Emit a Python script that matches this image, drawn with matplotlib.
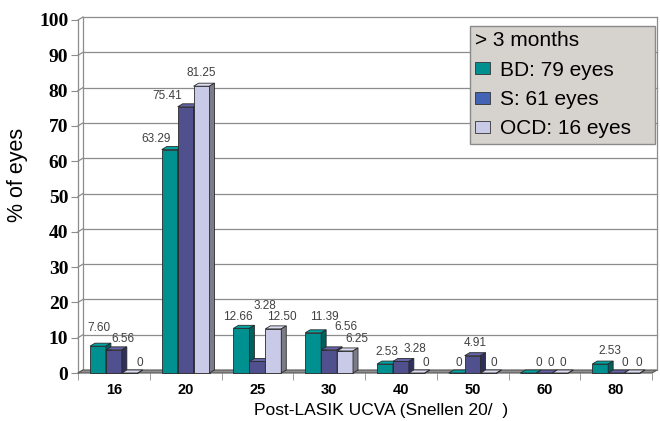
import numpy as np
import matplotlib.pyplot as plt
from matplotlib.patches import Polygon, Patch

# data
categories = ['16', '20', '25', '30', '40', '50', '60', '80']
series = ['BD: 79 eyes', 'S: 61 eyes', 'OCD: 16 eyes']
bd = [7.60, 63.29, 12.66, 11.39, 2.53, 0, 0, 2.53]
s = [6.56, 75.41, 3.28, 6.56, 3.28, 4.91, 0, 0]
ocd = [0, 81.25, 12.50, 6.25, 0, 0, 0, 0]
values = [bd, s, ocd]

# colours: front, side, top
front = ['#00908f', '#50508f', '#c9c9e8']
side = ['#005f5f', '#2f2f5c', '#7c7c88']
top = ['#00a3a3', '#6262a6', '#dcdcf2']
legend_cols = ['#00908f', '#4563b5', '#c9c9e8']

# label nudges (px right, data units above value) -- Excel labels were moved by hand
lab_dx = [[1, 9, 10], [-14, -18, 0], [-4, 8, 9], [11, 17, 12],
          [2, 14, 9], [2, 3, 5], [10, 6, 3], [10, 9, 7]]
lab_dy = [[5.1, 3.0, 2.8], [3.0, 3.1, 3.8], [3.2, 15.7, 3.4], [4.5, 6.4, 3.4],
          [3.5, 3.5, 2.8], [2.8, 3.6, 2.8], [2.8, 2.8, 2.8], [3.7, 2.8, 2.8]]

W, H = 660, 421
fig = plt.figure(figsize=(W / 100, H / 100), dpi=100)
x_left, x_right, y_bot, y_top = 78, 652, 373, 20
ax = fig.add_axes([x_left / W, (H - y_bot) / H, (x_right - x_left) / W, (y_bot - y_top) / H])
ax.set_xlim(-0.5, 7.5)
ax.set_ylim(0, 100)
for sp in ax.spines.values():
    sp.set_visible(False)

pxx = (x_right - x_left) / 8.0      # px per category
pxy = (y_bot - y_top) / 100.0       # px per unit
dx = 5 / pxx
dy = 3 / pxy
grid_c = '#8c8c8c'

# back wall grid + left wall edges
for v in range(0, 101, 10):
    if v > 0:
        ax.plot([-0.5 + dx, 7.5 + dx], [v + dy, v + dy], color=grid_c, lw=0.9, zorder=1, clip_on=False)
    ax.plot([-0.5, -0.5 + dx], [v, v + dy], color=grid_c, lw=0.9, zorder=1, clip_on=False)
ax.plot([-0.5 + dx, -0.5 + dx], [dy, 100 + dy], color=grid_c, lw=0.9, zorder=1, clip_on=False)
ax.plot([7.5 + dx, 7.5 + dx], [dy, 100 + dy], color=grid_c, lw=0.9, zorder=1, clip_on=False)
ax.plot([-0.5, -0.5], [0, 100], color=grid_c, lw=0.9, zorder=1, clip_on=False)

# floor
ax.add_patch(Polygon([(-0.5, 0), (7.5, 0), (7.5 + dx, dy), (-0.5 + dx, dy)],
                     closed=True, facecolor='#8f8f8f', edgecolor='#555555', lw=0.8, zorder=2, clip_on=False))

w = 0.222
xc = np.arange(len(categories))
for k in range(3):
    x0 = xc + (k - 1.5) * w
    vals = np.array(values[k])
    ax.bar(x0, vals, width=w, align='edge', color=front[k], edgecolor='#2a2a2a', lw=0.6, zorder=3 + k, clip_on=False)
    for i in range(len(categories)):
        a, b, h = x0[i], x0[i] + w, vals[i]
        ax.add_patch(Polygon([(a, h), (b, h), (b + dx, h + dy), (a + dx, h + dy)], closed=True,
                             facecolor=top[k], edgecolor='#2a2a2a', lw=0.6, zorder=3 + k, clip_on=False))
        ax.add_patch(Polygon([(b, 0), (b + dx, dy), (b + dx, h + dy), (b, h)], closed=True,
                             facecolor=side[k], edgecolor='#2a2a2a', lw=0.6, zorder=3 + k, clip_on=False))
        txt = f'{h:.2f}' if h else '0'
        ax.text(a + w / 2 + lab_dx[i][k] / pxx, h + lab_dy[i][k], txt, ha='center', va='center',
                fontsize=8.5, color='#404040', family='Liberation Sans', zorder=10)

# ticks
ax.set_yticks(range(0, 101, 10))
ax.set_yticklabels([str(v) for v in range(0, 101, 10)], fontsize=14, fontweight='bold',
                   family='Liberation Serif')
ax.tick_params(axis='y', length=5, color=grid_c, pad=2)
ax.set_xticks(xc)
ax.set_xticklabels(categories, fontsize=10.5, fontweight='bold', family='Liberation Sans')
ax.tick_params(axis='x', length=0, pad=7)
ax.set_xticks(np.arange(-0.5, 8, 1), minor=True)
ax.tick_params(axis='x', which='minor', length=5, color=grid_c)

fig.text(381 / W, 1 - 410 / H, 'Post-LASIK UCVA (Snellen 20/  )', ha='center', va='center',
         fontsize=12.5, family='Liberation Sans')
fig.text(18 / W, 1 - 175 / H, '% of eyes', rotation=90, ha='center', va='center',
         fontsize=15.5, family='Liberation Sans')

handles = [Patch(facecolor=c, edgecolor='#333333', lw=0.6) for c in legend_cols]
leg = ax.legend(handles, series, title='> 3 months', loc='upper left', mode='expand',
                bbox_to_anchor=(470 / W, 1 - 143 / H, 185 / W, 117 / H), bbox_transform=fig.transFigure,
                fancybox=False, facecolor='#d6d2cd', edgecolor='#8a8a8a', framealpha=1,
                prop={'family': 'Liberation Sans', 'size': 15},
                title_fontproperties={'family': 'Liberation Sans', 'size': 15},
                alignment='left', handlelength=0.72, handleheight=0.5, handletextpad=0.45,
                labelspacing=0.5, borderpad=0.25, borderaxespad=0)
leg.set_zorder(20)

fig.savefig('out.png', dpi=100)
